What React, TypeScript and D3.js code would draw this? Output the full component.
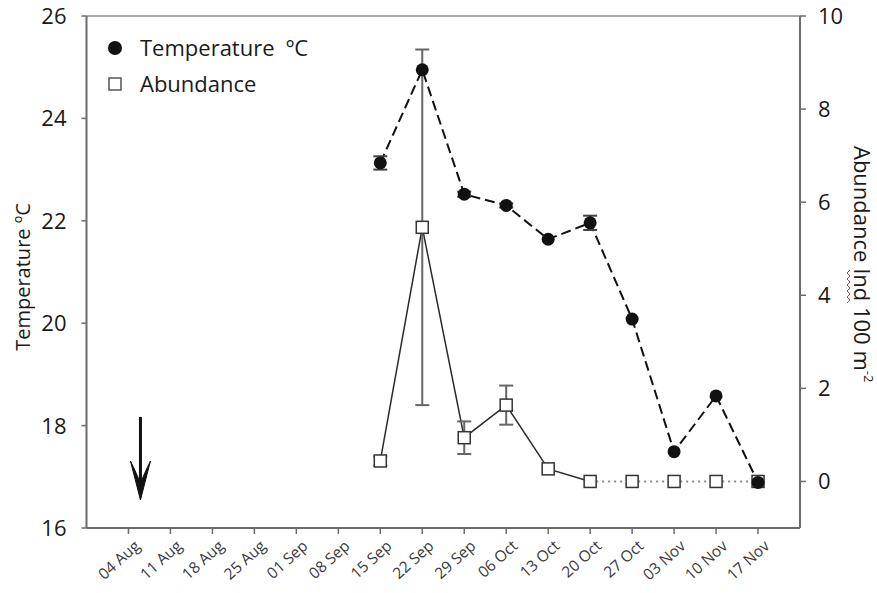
import React from "react";
import * as d3 from "d3";

// Weekly axis ticks
const weekLabels = [
  "04 Aug", "11 Aug", "18 Aug", "25 Aug", "01 Sep", "08 Sep", "15 Sep", "22 Sep",
  "29 Sep", "06 Oct", "13 Oct", "20 Oct", "27 Oct", "03 Nov", "10 Nov", "17 Nov",
];

// Sampling dates
const sampleDates = [
  "15 Sep", "22 Sep", "29 Sep", "06 Oct", "13 Oct", "20 Oct", "27 Oct", "03 Nov", "10 Nov", "17 Nov",
];

// Water temperature (ºC) with standard error
const temperature = [23.13, 24.95, 22.52, 22.3, 21.64, 21.96, 20.08, 17.49, 18.58, 16.89];
const temperatureErr = [0.13, 0, 0.05, 0.04, 0, 0.14, 0, 0, 0, 0];

// Abundance (ind 100 m^-2) with standard error
const abundance = [0.44, 5.46, 0.94, 1.64, 0.27, 0, 0, 0, 0, 0];
const abundanceErr = [0.1, 3.82, 0.35, 0.42, 0, 0, 0, 0, 0, 0];

const leftTicks = [16, 18, 20, 22, 24, 26];
const rightTicks = [0, 2, 4, 6, 8, 10];

// Release date marker
const arrowDate = "06 Aug";

const YEAR = 2014;
const parse = d3.timeParse("%d %b %Y");
const toDate = (s: string) => parse(`${s} ${YEAR}`) as Date;

const FONT = "'Open Sans', sans-serif";
const AXIS = "#6b6b6b";
const TEXT = "#1a1a1a";

export default function App() {
  const W = 877;
  const H = 593;
  const left = 86.5;
  const right = 800;
  const top = 16;
  const bottom = 528;

  const x = d3
    .scaleTime()
    .domain([toDate("28 Jul"), toDate("24 Nov")])
    .range([left, right]);
  const yT = d3.scaleLinear().domain([16, 26]).range([bottom, top]);
  const yA = d3.scaleLinear().domain([-1, 10]).range([bottom, top]);

  const pts = sampleDates.map((s, i) => ({
    x: x(toDate(s)),
    t: temperature[i],
    te: temperatureErr[i],
    a: abundance[i],
    ae: abundanceErr[i],
  }));

  const lineT = d3
    .line<(typeof pts)[number]>()
    .x((d) => d.x)
    .y((d) => yT(d.t));
  const lineA = d3
    .line<(typeof pts)[number]>()
    .x((d) => d.x)
    .y((d) => yA(d.a));

  // Solid line while animals were found, dotted once abundance stays at zero
  const firstZero = abundance.findIndex((v, i) => v === 0 && abundance.slice(i).every((w) => w === 0));
  const solidPts = pts.slice(0, firstZero + 1);
  const dottedPts = pts.slice(firstZero);

  const cap = 7;
  const sq = 12;

  const ax = x(toDate(arrowDate));

  return (
    <svg width={W} height={H} style={{ display: "block", position: "absolute", left: 0, top: 0 }}>
      <rect width={W} height={H} fill="#fff" />

      {/* frame */}
      <line x1={left} x2={right} y1={top} y2={top} stroke="#8a8a8a" strokeWidth={1.5} />
      <line x1={left} x2={right} y1={bottom} y2={bottom} stroke={AXIS} strokeWidth={2} />
      <line x1={left} x2={left} y1={top} y2={bottom} stroke={AXIS} strokeWidth={2} />
      <line x1={right} x2={right} y1={top} y2={bottom} stroke={AXIS} strokeWidth={2} />

      {/* left axis */}
      {leftTicks.map((v) => (
        <g key={`l${v}`}>
          <line x1={left - 5} x2={left} y1={yT(v)} y2={yT(v)} stroke={AXIS} strokeWidth={1.5} />
          <text x={left - 20} y={yT(v)} dy="0.36em" textAnchor="end" fontSize={22} fontFamily={FONT} fill={TEXT}>
            {v}
          </text>
        </g>
      ))}
      <text
        transform={`translate(30, ${(yT(16) + yT(26)) / 2 + 5}) rotate(-90)`}
        textAnchor="middle"
        fontSize={20}
        fontFamily={FONT}
        fill={TEXT}
      >
        Temperature ºC
      </text>

      {/* right axis */}
      {rightTicks.map((v) => (
        <g key={`r${v}`}>
          <line x1={right} x2={right + 6} y1={yA(v)} y2={yA(v)} stroke={AXIS} strokeWidth={1.5} />
          <text x={right + 18} y={yA(v)} dy="0.36em" textAnchor="start" fontSize={22} fontFamily={FONT} fill={TEXT}>
            {v}
          </text>
        </g>
      ))}
      <g transform={`translate(854, 146) rotate(90)`}>
        <text x={0} y={0} fontSize={22} fontFamily={FONT} fill={TEXT}>
          Abundance Ind 100 m
          <tspan fontSize={13} dy={-10}>-2</tspan>
        </text>
        {/* spell-check squiggle under "Ind" */}
        <path
          d={d3.range(0, 36, 3).map((d, i) => `${i === 0 ? "M" : "L"}${124 + d},${i % 2 === 0 ? 4 : 7}`).join("")}
          fill="none"
          stroke="#d33"
          strokeWidth={1}
        />
      </g>

      {/* bottom axis */}
      {weekLabels.map((s) => {
        const tx = x(toDate(s));
        return (
          <g key={s}>
            <line x1={tx} x2={tx} y1={bottom} y2={bottom + 6} stroke={AXIS} strokeWidth={1.5} />
            <text
              transform={`translate(${tx + 5}, ${bottom + 11}) rotate(-42)`}
              textAnchor="end"
              dy="0.72em"
              fontSize={15.5}
              fontFamily={FONT}
              fill="#3a3a3a"
            >
              {s}
            </text>
          </g>
        );
      })}

      {/* abundance lines */}
      <path d={lineA(solidPts) ?? ""} fill="none" stroke="#2a2a2a" strokeWidth={1.5} />
      <path d={lineA(dottedPts) ?? ""} fill="none" stroke="#8a8a8a" strokeWidth={2} strokeDasharray="2 4" />

      {/* temperature line */}
      <path d={lineT(pts) ?? ""} fill="none" stroke="#111" strokeWidth={2} strokeDasharray="10 5" />

      {/* abundance error bars */}
      {pts
        .filter((d) => d.ae > 0)
        .map((d, i) => (
          <g key={`ae${i}`} stroke="#666" strokeWidth={2}>
            <line x1={d.x} x2={d.x} y1={yA(d.a + d.ae)} y2={yA(d.a - d.ae)} />
            <line x1={d.x - cap} x2={d.x + cap} y1={yA(d.a + d.ae)} y2={yA(d.a + d.ae)} />
            <line x1={d.x - cap} x2={d.x + cap} y1={yA(d.a - d.ae)} y2={yA(d.a - d.ae)} />
          </g>
        ))}

      {/* temperature error bars */}
      {pts
        .filter((d) => d.te > 0)
        .map((d, i) => (
          <g key={`te${i}`} stroke="#444" strokeWidth={2}>
            <line x1={d.x} x2={d.x} y1={yT(d.t + d.te)} y2={yT(d.t - d.te)} />
            <line x1={d.x - cap} x2={d.x + cap} y1={yT(d.t + d.te)} y2={yT(d.t + d.te)} />
            <line x1={d.x - cap} x2={d.x + cap} y1={yT(d.t - d.te)} y2={yT(d.t - d.te)} />
          </g>
        ))}

      {/* markers */}
      {pts.map((d, i) => (
        <rect
          key={`a${i}`}
          x={d.x - sq / 2}
          y={yA(d.a) - sq / 2}
          width={sq}
          height={sq}
          fill="#fff"
          stroke="#333"
          strokeWidth={1.5}
        />
      ))}
      {pts.map((d, i) => (
        <circle key={`t${i}`} cx={d.x} cy={yT(d.t)} r={6.5} fill="#111" />
      ))}

      {/* legend */}
      <circle cx={115} cy={48} r={7} fill="#111" />
      <text x={140} y={48} dy="0.36em" fontSize={22} fontFamily={FONT} fill={TEXT}>
        {"Temperature\u00a0\u00a0ºC"}
      </text>
      <rect x={109} y={78} width={12} height={12} fill="#fff" stroke="#555" strokeWidth={1.5} />
      <text x={140} y={84} dy="0.36em" fontSize={22} fontFamily={FONT} fill={TEXT}>
        Abundance
      </text>

      {/* release arrow */}
      <g fill="#111" stroke="#111">
        <line x1={ax} x2={ax} y1={417} y2={488} strokeWidth={3} />
        <path
          d={`M${ax},500 L${ax - 10},461 Q${ax - 3},475 ${ax},484 Q${ax + 3},475 ${ax + 10},461 Z`}
          strokeWidth={1}
        />
      </g>
    </svg>
  );
}
